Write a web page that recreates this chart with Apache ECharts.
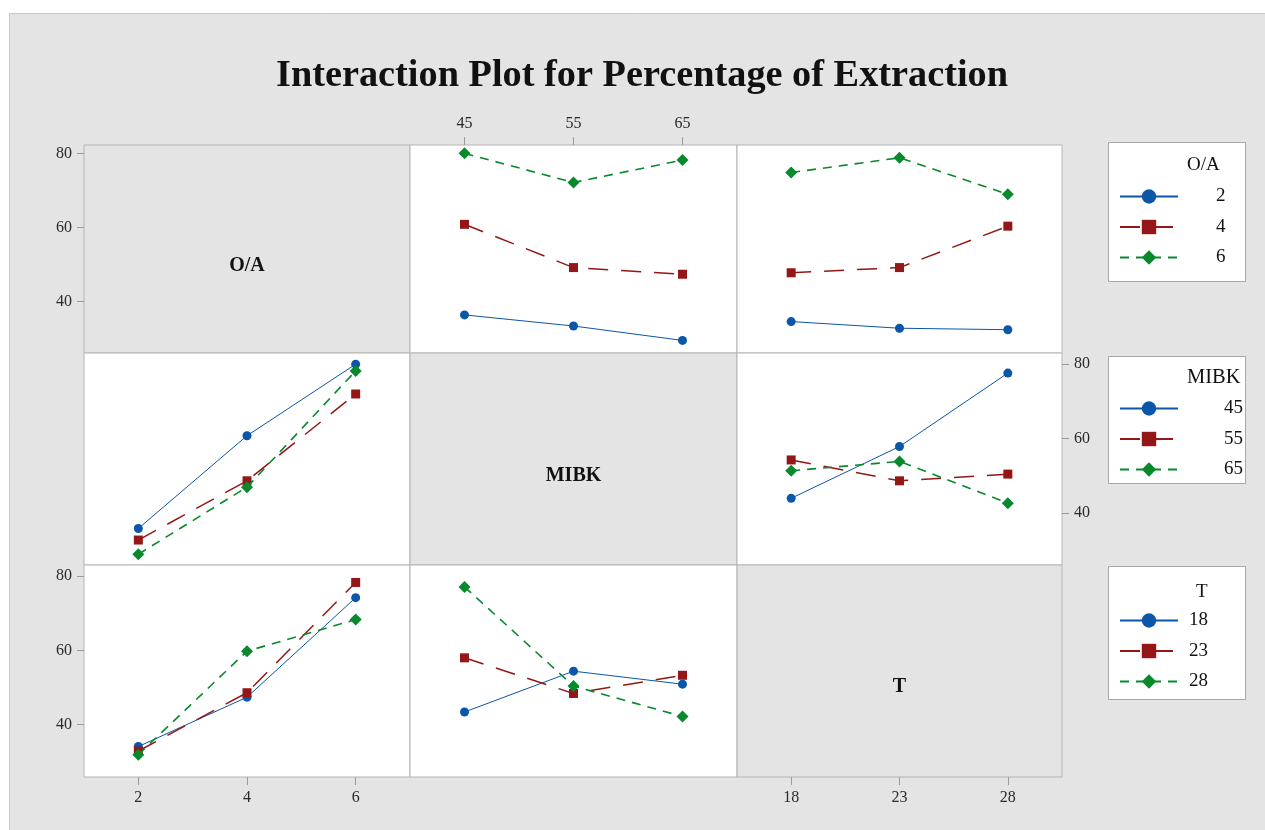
<!DOCTYPE html>
<html>
<head>
<meta charset="utf-8">
<script src="https://cdn.jsdelivr.net/npm/echarts@6.0.0/dist/echarts.min.js"></script>
<style>
    html, body { margin: 0; padding: 0; background: #fff; }
    #chart { width: 1265px; height: 830px; }
</style>
</head>
<body>
<div id="chart"></div>
<script>
const factors = ['O/A', 'MIBK', 'T'];
const oaLevels = [2, 4, 6];
const mibkLevels = [45, 55, 65];
const tLevels = [18, 23, 28];
const levels = [oaLevels, mibkLevels, tLevels];

// each panel: one row per level of the trace factor, one value per x level
const oaVsMibk = [[36.4, 33.4, 29.5], [60.9, 49.2, 47.4], [80.1, 72.2, 78.3]];
const oaVsT = [[34.6, 32.8, 32.4], [47.8, 49.2, 60.4], [74.9, 78.9, 69.0]];
const mibkVsOa = [[35.9, 60.8, 80.0], [32.8, 48.7, 72.0], [29.0, 47.0, 78.2]];
const mibkVsT = [[44.0, 57.9, 77.6], [54.3, 48.7, 50.5], [51.4, 53.9, 42.7]];
const tVsOa = [[34.1, 47.4, 74.2], [32.9, 48.6, 78.3], [31.9, 59.8, 68.3]];
const tVsMibk = [[43.4, 54.4, 50.9], [58.0, 48.4, 53.3], [77.1, 50.4, 42.2]];
const yTicks = [40, 60, 80];

const panels = {
    '0-1': oaVsMibk, '0-2': oaVsT,
    '1-0': mibkVsOa, '1-2': mibkVsT,
    '2-0': tVsOa, '2-1': tVsMibk
};

const xRanges = [[1, 7], [40, 70], [15.5, 30.5]];
const yRanges = [[26.1, 82.35], [26.1, 83], [25.9, 83]];

const colLeft = [84, 410, 737], colWidth = [326, 327, 325];
const rowTop = [145, 353, 565], rowHeight = [208, 212, 212];

const serif = "'Liberation Serif', 'DejaVu Serif', serif";
const styles = [
    {color: '#0b56a8', symbol: 'circle', size: 9, type: 'solid', width: 1},
    {color: '#941616', symbol: 'rect', size: 9, type: [20, 13], width: 1.5},
    {color: '#07892c', symbol: 'diamond', size: 12, type: [9, 7], width: 1.6}
];

// which axes carry labels
const xLabelPos = {'0-1': 'top', '2-0': 'bottom', '2-2': 'bottom'};
const yLabelPos = {'0-0': 'left', '2-0': 'left', '1-2': 'right'};

let grids = [], xAxes = [], yAxes = [], series = [];

for (let r = 0; r < 3; r++) {
    for (let c = 0; c < 3; c++) {
        const key = r + '-' + c;
        const idx = r * 3 + c;
        grids.push({
            left: colLeft[c], top: rowTop[r], width: colWidth[c], height: rowHeight[r],
            show: true,
            backgroundColor: r === c ? '#e4e4e4' : '#ffffff',
            borderColor: '#b4b4b4', borderWidth: 1
        });
        const xp = xLabelPos[key];
        xAxes.push({
            type: 'value', gridIndex: idx,
            min: xRanges[c][0], max: xRanges[c][1],
            position: xp || 'bottom',
            axisLine: {show: false},
            splitLine: {show: false},
            axisTick: {show: !!xp, length: 8, lineStyle: {color: '#999'}, customValues: levels[c]},
            axisLabel: {show: !!xp, margin: 13, color: '#2a2a2a', fontSize: 16, fontFamily: serif, customValues: levels[c]}
        });
        const yp = yLabelPos[key];
        yAxes.push({
            type: 'value', gridIndex: idx,
            min: yRanges[r][0], max: yRanges[r][1],
            position: yp || 'left',
            axisLine: {show: false},
            splitLine: {show: false},
            axisTick: {show: !!yp, length: 7, lineStyle: {color: '#999'}, customValues: yTicks},
            axisLabel: {show: !!yp, margin: 12, color: '#2a2a2a', fontSize: 16, fontFamily: serif, customValues: yTicks}
        });
        const vals = panels[key];
        if (!vals) continue;
        vals.forEach(function (row, k) {
            const s = styles[k];
            series.push({
                type: 'line',
                name: String(levels[r][k]),
                xAxisIndex: idx, yAxisIndex: idx,
                data: row.map(function (v, j) { return [levels[c][j], v]; }),
                symbol: s.symbol, symbolSize: s.size,
                itemStyle: {color: s.color},
                lineStyle: {color: s.color, width: s.width, type: s.type},
                emphasis: {disabled: true},
                z: 3 + k
            });
        });
    }
}

const legendTops = [187, 399, 611];
const legendPad = [33, 41, 6];
const legends = levels.map(function (lv, r) {
    return {
        orient: 'vertical', left: 1119, top: legendTops[r], padding: 0,
        itemWidth: 58, itemHeight: 18, itemGap: 11.5,
        data: lv.map(String),
        selectedMode: false,
        textStyle: {fontSize: 19, fontFamily: serif, color: '#111', padding: [0, 0, 0, legendPad[r]]}
    };
});

const boxTops = [142, 356, 566], boxHeights = [139, 127, 133];
const legendTitlePos = [[1187, 165], [1187, 378], [1196, 592]];
const legendTitleSize = [19, 20.5, 19];
const diagLabelY = [266, 476, 687];

let graphics = [{
    type: 'rect', z: -10,
    shape: {x: 9.5, y: 13.5, width: 1260, height: 820},
    style: {fill: '#e4e4e4', stroke: '#c8c8c8', lineWidth: 1}
}];
for (let r = 0; r < 3; r++) {
    graphics.push({
        type: 'rect', z: -5,
        shape: {x: 1108.5, y: boxTops[r] + 0.5, width: 137, height: boxHeights[r]},
        style: {fill: '#fff', stroke: '#a8a8a8', lineWidth: 1}
    });
    graphics.push({
        type: 'text', z: 10,
        x: legendTitlePos[r][0], y: legendTitlePos[r][1],
        style: {text: factors[r], font: legendTitleSize[r] + 'px ' + serif, fill: '#111', verticalAlign: 'middle', align: 'left'}
    });
    graphics.push({
        type: 'text', z: 10,
        x: colLeft[r] + colWidth[r] / 2, y: diagLabelY[r],
        style: {text: factors[r], font: 'bold 20px ' + serif, fill: '#111', align: 'center', verticalAlign: 'middle'}
    });
}

const myChart = echarts.init(document.getElementById('chart'));
myChart.setOption({
    animation: false,
    backgroundColor: '#ffffff',
    title: {
        text: 'Interaction Plot for Percentage of Extraction',
        left: 271, top: 52,
        textStyle: {fontFamily: serif, fontWeight: 'bold', fontSize: 38.3, color: '#111'}
    },
    grid: grids,
    xAxis: xAxes,
    yAxis: yAxes,
    legend: legends,
    graphic: graphics,
    series: series
});
</script>
</body>
</html>
